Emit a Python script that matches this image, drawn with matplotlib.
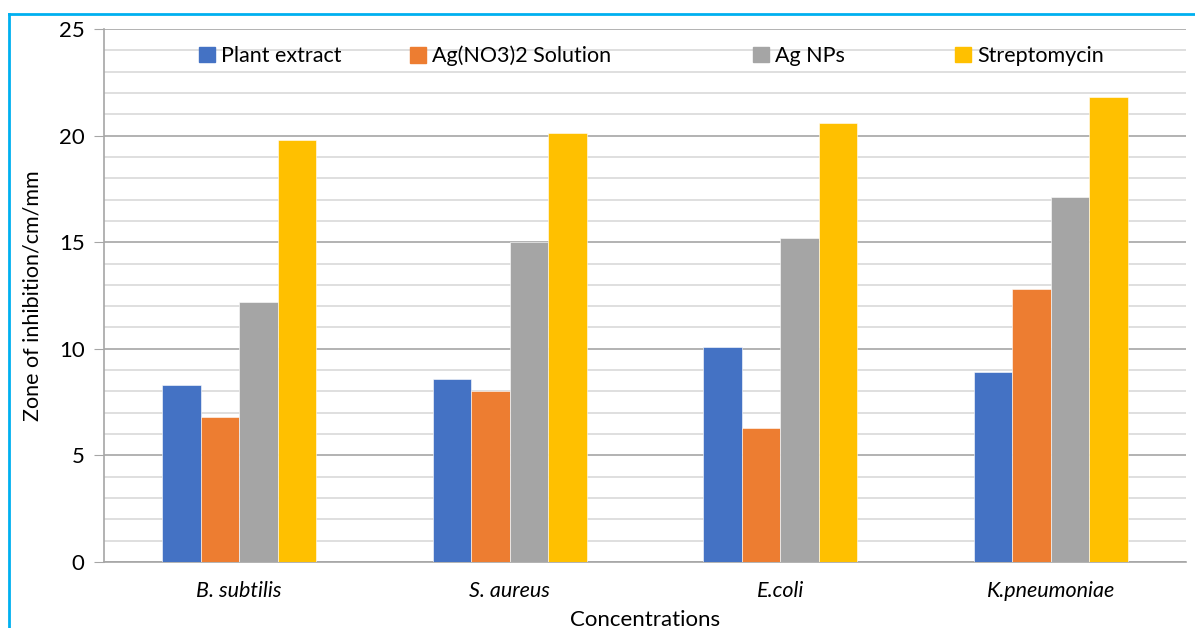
import numpy as np
import matplotlib.pyplot as plt
from matplotlib.patches import Patch
from matplotlib.lines import Line2D
from matplotlib.legend import Legend
from matplotlib.ticker import MultipleLocator

plt.rcParams['font.family'] = ['Lato', 'DejaVu Sans']

organisms = ['B. subtilis', 'S. aureus', 'E.coli', 'K.pneumoniae']
series = ['Plant extract', 'Ag(NO3)2 Solution', 'Ag NPs', 'Streptomycin']
plant_extract = [8.3, 8.6, 10.1, 8.9]
silver_nitrate = [6.8, 8.0, 6.3, 12.8]
ag_nps = [12.2, 15.0, 15.2, 17.1]
streptomycin = [19.8, 20.1, 20.6, 21.8]
colors = ['#4472c4', '#ed7d31', '#a5a5a5', '#ffc000']

values = [plant_extract, silver_nitrate, ag_nps, streptomycin]

fig = plt.figure(figsize=(11.95, 6.28), dpi=100)
ax = fig.add_axes([104 / 1195, 1 - 562 / 628, 1082 / 1195, 533 / 628])

x = np.arange(len(organisms))
w = 0.142
for i, (vals, c) in enumerate(zip(values, colors)):
    ax.bar(x + (i - 1.5) * w, vals, width=w, color=c, zorder=3,
           edgecolor='white', linewidth=0.4)

ax.set_xlim(-0.5, len(organisms) - 0.5)
ax.set_ylim(0, 25)
ax.yaxis.set_major_locator(MultipleLocator(5))
ax.yaxis.set_minor_locator(MultipleLocator(1))
ax.grid(axis='y', which='major', color='#a6a6a6', linewidth=1.2, zorder=0)
ax.grid(axis='y', which='minor', color='#d9d9d9', linewidth=1.2, zorder=0)

for s in ['top', 'right']:
    ax.spines[s].set_visible(False)
for s in ['left', 'bottom']:
    ax.spines[s].set_color('#a6a6a6')
    ax.spines[s].set_linewidth(1.2)

ax.tick_params(axis='y', which='major', length=7, color='#a6a6a6',
               labelsize=16, pad=7)
ax.tick_params(axis='y', which='minor', length=0)
ax.tick_params(axis='x', length=0, labelsize=15.5, pad=14)
ax.set_xticks(x)
ax.set_xticklabels(organisms, style='italic')

ax.set_ylabel('Zone of inhibition/cm/mm', fontsize=15.5, labelpad=12)
ax.set_xlabel('Concentrations', fontsize=16, labelpad=6)

# legend entries spaced along the top row
legend_x = [199, 410, 753, 955]
for name, c, lx in zip(series, colors, legend_x):
    leg = Legend(ax, [Patch(color=c)], [name], loc='center left',
                 bbox_to_anchor=((lx - 104 - 9) / 1082, (562 - 56) / 533),
                 frameon=False, fontsize=15.5, handlelength=0.75,
                 handleheight=0.75, handletextpad=0.3, borderaxespad=0)
    ax.add_artist(leg)

# outer frame lines
fig.add_artist(Line2D([9 / 1195, 1], [1 - 14 / 628, 1 - 14 / 628],
                      color='#00b0f0', linewidth=2, transform=fig.transFigure))
fig.add_artist(Line2D([9 / 1195, 9 / 1195], [0, 1 - 14 / 628],
                      color='#00b0f0', linewidth=2, transform=fig.transFigure))

fig.savefig('out.png', dpi=100)
